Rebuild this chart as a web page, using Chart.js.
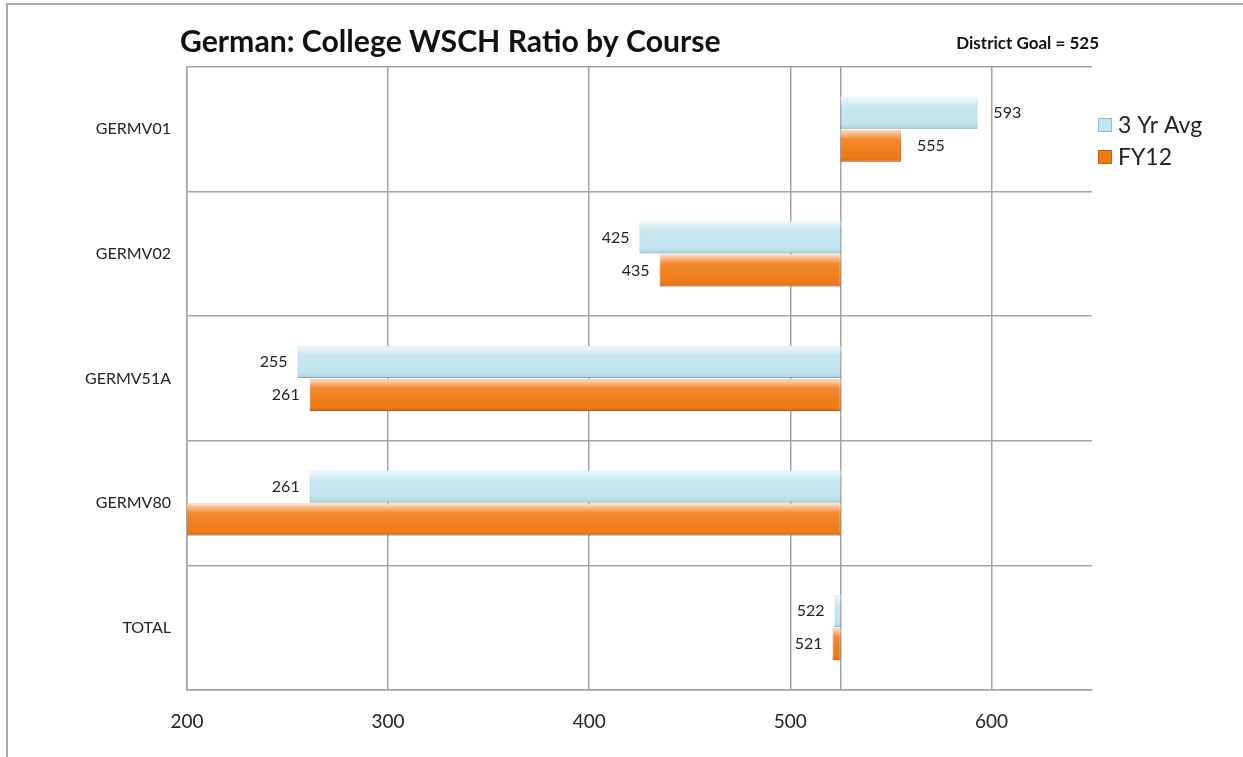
<!DOCTYPE html>
<html>
<head>
<meta charset="utf-8">
<script src="https://cdn.jsdelivr.net/npm/chart.js@4/dist/chart.umd.min.js"></script>
<style>
  html, body { margin: 0; padding: 0; background: #fff; }
  #wrap { position: relative; width: 1243px; height: 757px; }
</style>
</head>
<body>
<div id="wrap"><canvas id="myChart" width="1243" height="757"></canvas></div>
<script>
const categories = ['GERMV01', 'GERMV02', 'GERMV51A', 'GERMV80', 'TOTAL'];
const avg3yr = [593, 425, 255, 261, 522];
const fy12 = [555, 435, 261, 160, 521];
const goal = 525;
const xTicks = [200, 300, 400, 500, 600];
const titleText = 'German: College WSCH Ratio by Course';
const goalText = 'District Goal = ' + goal;

const FONT = 'Lato, "Open Sans", sans-serif';

// frame, title, goal text and legend
const decorPlugin = {
  id: 'decor',
  beforeDraw(chart) {
    const ctx = chart.ctx;
    ctx.save();
    ctx.strokeStyle = '#a8a8a8';
    ctx.lineWidth = 2;
    ctx.beginPath();
    ctx.moveTo(7, 757);
    ctx.lineTo(7, 4);
    ctx.lineTo(1243, 4);
    ctx.stroke();
    ctx.restore();
  },
  afterDraw(chart) {
    const ctx = chart.ctx;
    ctx.save();
    ctx.fillStyle = '#111';
    ctx.textBaseline = 'middle';
    ctx.textAlign = 'left';
    // fit title to its width in the picture
    let size = 29;
    ctx.font = 'bold ' + size + 'px ' + FONT;
    const w = ctx.measureText(titleText).width;
    size = Math.min(32, size * 540 / w);
    ctx.font = 'bold ' + size.toFixed(1) + 'px ' + FONT;
    ctx.fillText(titleText, 180, 42);
    ctx.font = 'bold 17px ' + FONT;
    ctx.textAlign = 'right';
    ctx.fillText(goalText, 1099, 44);

    // legend
    const items = chart.data.datasets;
    ctx.font = '23px ' + FONT;
    ctx.textAlign = 'left';
    items.forEach((ds, i) => {
      const cy = 125 + i * 32;
      ctx.fillStyle = ds.backgroundColor;
      ctx.fillRect(1098, cy - 7, 14, 14);
      ctx.strokeStyle = ds.borderColor;
      ctx.lineWidth = 1;
      ctx.strokeRect(1098.5, cy - 6.5, 13, 13);
      ctx.fillStyle = '#222';
      ctx.fillText(ds.label, 1118, cy + 1);
    });
    ctx.restore();
  }
};

// bevel highlight + value labels
const barLabelPlugin = {
  id: 'barLabels',
  afterDatasetsDraw(chart) {
    const ctx = chart.ctx;
    const area = chart.chartArea;
    const xScale = chart.scales.x;
    chart.data.datasets.forEach((ds, di) => {
      const meta = chart.getDatasetMeta(di);
      meta.data.forEach((bar, i) => {
        const p = bar.getProps(['x', 'y', 'base', 'height']);
        const left = Math.max(area.left, Math.min(p.x, p.base));
        const right = Math.min(area.right, Math.max(p.x, p.base));
        const top = p.y - p.height / 2;
        // highlight
        ctx.save();
        const g = ctx.createLinearGradient(0, top, 0, top + p.height);
        g.addColorStop(0, 'rgba(255,255,255,0.75)');
        g.addColorStop(0.3, 'rgba(255,255,255,0.1)');
        g.addColorStop(0.75, 'rgba(255,255,255,0)');
        g.addColorStop(1, 'rgba(0,0,0,0.12)');
        ctx.fillStyle = g;
        ctx.fillRect(left, top, right - left, p.height);
        ctx.restore();

        const v = ds.data[i][1];
        if (v < xScale.min || v > xScale.max) return;
        const px = xScale.getPixelForValue(v);
        ctx.save();
        ctx.font = '16px ' + FONT;
        ctx.fillStyle = '#222';
        ctx.textBaseline = 'middle';
        if (v < goal) {
          ctx.textAlign = 'right';
          ctx.fillText(String(v), px - 10, p.y);
        } else {
          ctx.textAlign = 'left';
          ctx.fillText(String(v), px + 16, p.y);
        }
        ctx.restore();
      });
    });
  }
};

const ctx = document.getElementById('myChart').getContext('2d');

const data = {
  labels: categories,
  datasets: [
    {
      label: '3 Yr Avg',
      data: avg3yr.map(v => [goal, v]),
      backgroundColor: '#c2e5ef',
      borderColor: '#8dbfcd',
      borderWidth: 1,
      borderSkipped: false
    },
    {
      label: 'FY12',
      data: fy12.map(v => [goal, v]),
      backgroundColor: '#ef7b17',
      borderColor: '#c9600c',
      borderWidth: 1,
      borderSkipped: false
    }
  ]
};

const myChart = new Chart(ctx, {
  type: 'bar',
  data: data,
  plugins: [decorPlugin, barLabelPlugin],
  options: {
    indexAxis: 'y',
    responsive: false,
    animation: false,
    categoryPercentage: 0.53,
    barPercentage: 0.97,
    layout: { padding: { top: 67, right: 151, left: 0, bottom: 0 } },
    plugins: {
      legend: { display: false },
      tooltip: { enabled: false }
    },
    scales: {
      x: {
        type: 'linear',
        min: 200,
        max: 650,
        afterBuildTicks: (scale) => {
          scale.ticks = xTicks.concat([goal]).sort((a, b) => a - b).map(v => ({ value: v }));
        },
        afterFit: (scale) => { scale.height = 67; },
        ticks: {
          callback: (v) => (v === goal ? '' : v),
          font: { family: FONT, size: 19 },
          color: '#222',
          padding: 20,
          maxRotation: 0
        },
        grid: { color: '#a4a4a4', lineWidth: 1.5, drawTicks: false },
        border: { color: '#a4a4a4', width: 1.5 }
      },
      y: {
        afterFit: (scale) => { scale.width = 187; },
        ticks: {
          font: { family: FONT, size: 16 },
          color: '#222',
          padding: 16
        },
        grid: { color: '#a4a4a4', lineWidth: 1.5, drawTicks: false },
        border: { color: '#a4a4a4', width: 1.5 }
      }
    }
  }
});
</script>
</body>
</html>
